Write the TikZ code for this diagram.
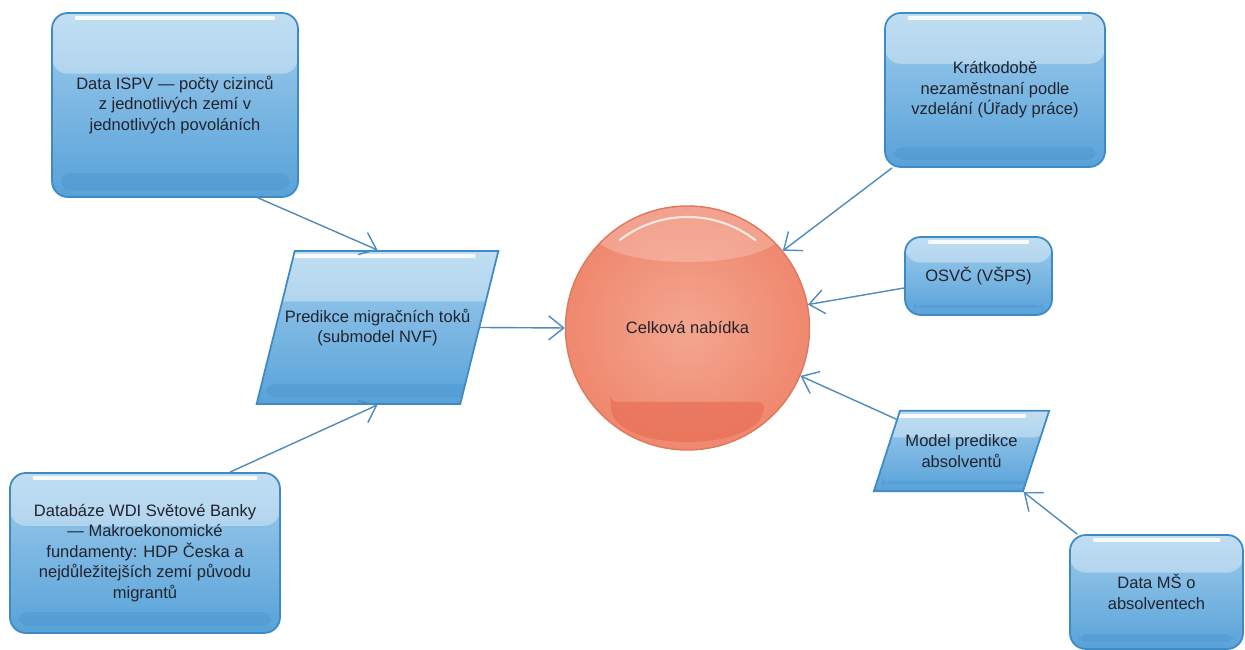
\documentclass[tikz,border=0pt]{standalone}
\usepackage{fontspec}
\setmainfont{Liberation Sans}
\usepackage{xcolor}
\usepackage{tikz}
\usetikzlibrary{calc}
\usetikzlibrary{shapes.geometric}
\usetikzlibrary{arrows.meta}

\definecolor{boxedge}{RGB}{62,138,196}
\definecolor{boxtop}{RGB}{160,205,236}
\definecolor{boxbot}{RGB}{88,162,217}
\definecolor{boxband}{RGB}{78,152,208}
\definecolor{linkblue}{RGB}{78,140,188}
\definecolor{ballin}{RGB}{244,166,144}
\definecolor{ballout}{RGB}{239,136,110}
\definecolor{balledge}{RGB}{222,120,94}
\definecolor{ballband}{RGB}{233,112,88}
\definecolor{txt}{RGB}{35,35,45}

\tikzset{
    txtfont/.style={font=\fontsize{9.4}{11.6}\selectfont, text=txt, align=center},
    % gloss on top, darker band at the bottom
    glossy/.style={path picture={
        \fill[white, opacity=.35, rounded corners=9pt]
            ([yshift=12pt]path picture bounding box.north west) rectangle
            ($(path picture bounding box.north east)!.33!(path picture bounding box.south east)$);
        \draw[white, line width=2.2pt, line cap=round, opacity=.9]
            ([xshift=14pt, yshift=-3pt]path picture bounding box.north west) --
            ([xshift=-14pt, yshift=-3pt]path picture bounding box.north east);
        \fill[boxband, opacity=.5, rounded corners=5pt]
            ([xshift=5pt, yshift=4pt]path picture bounding box.south west) rectangle
            ($([xshift=-5pt]path picture bounding box.south east)!.13!([xshift=-5pt]path picture bounding box.north east)$);
    }},
    srcbox/.style={txtfont, draw=boxedge, line width=1pt, rounded corners=9pt,
        top color=boxtop, bottom color=boxbot, glossy},
    modbox/.style={txtfont, trapezium, trapezium stretches body=true, draw=boxedge,
        line width=1pt, top color=boxtop, bottom color=boxbot, glossy},
    sumball/.style={txtfont, circle, draw=balledge, line width=.8pt,
        inner color=ballin, outer color=ballout, path picture={
        \fill[white, opacity=.22]
            ([yshift=1.87cm]path picture bounding box.center) ellipse [x radius=1.85cm, y radius=.55cm];
        \draw[white, line width=1.2pt, opacity=.75]
            ([shift={(128:2.22cm)}]path picture bounding box.center) arc [start angle=128, end angle=52, radius=2.22cm];
        \fill[ballband, opacity=.75, rounded corners=4pt]
            ([shift={(-1.54cm,-1.48cm)}]path picture bounding box.center) --
            ([shift={(1.54cm,-1.48cm)}]path picture bounding box.center) ..
            controls ([shift={(1.45cm,-2.5cm)}]path picture bounding box.center)
            and ([shift={(-1.45cm,-2.5cm)}]path picture bounding box.center) .. cycle;
    }},
    link/.style={draw=linkblue, line width=.8pt,
        -{Straight Barb[length=3mm, width=4.8mm]}}
}

\begin{document}
\begin{tikzpicture}

        \useasboundingbox (0,0) rectangle (24.9,13);

        % Scope with the nodes, placed at their coordinates
        \begin{scope}

            \node (sum) [sumball, minimum size=4.88cm] at (13.75,6.44)
            {Celková nabídka};

            \node (ispv) [srcbox, minimum width=4.92cm, minimum height=3.68cm]
            at (3.50,10.90)
            {Data ISPV — počty cizinců\\z jednotlivých zemí v\\jednotlivých povoláních};
            \node (wdi) [srcbox, minimum width=5.40cm, minimum height=3.20cm]
            at (2.90,1.94)
            {Databáze WDI Světové Banky\\— Makroekonomické\\fundamenty: HDP Česka a\\nejdůležitejších zemí původu\\migrantů};
            \node (pred) [modbox, trapezium left angle=76, trapezium right angle=104,
            inner ysep=1.16cm, inner xsep=-.2cm] at (7.55,6.45)
            {Predikce migračních toků\\(submodel NVF)};

            \node (kratk) [srcbox, minimum width=4.40cm, minimum height=3.08cm]
            at (19.90,11.20)
            {Krátkodobě\\nezaměstnaní podle\\vzdelání (Úřady práce)};
            \node (osvc) [srcbox, minimum width=2.94cm, minimum height=1.56cm]
            at (19.57,7.48) {OSVČ (VŠPS)};
            \node (model) [modbox, trapezium left angle=72, trapezium right angle=108,
            inner ysep=.48cm, inner xsep=.11cm] at (19.23,3.98)
            {Model predikce\\absolventů};
            \node (ms) [srcbox, minimum width=3.46cm, minimum height=2.28cm]
            at (23.13,1.16) {Data MŠ o\\absolventech};
        \end{scope}

        \begin{scope}[link]
            \draw ([xshift=1.66cm]ispv.south) -- (pred.north);
            \draw ([xshift=1.70cm]wdi.north) -- (pred.south);
            \draw (pred.east) -- (sum.west);

            \draw ([xshift=.16cm]kratk.south west) -- (sum.39);
            \draw ([yshift=-.24cm]osvc.west) -- (sum.11);
            \draw (model.154) -- (sum.-23);
            \draw ([xshift=.16cm]ms.north west) -- (model.bottom right corner);
        \end{scope}

\end{tikzpicture}
\end{document}
